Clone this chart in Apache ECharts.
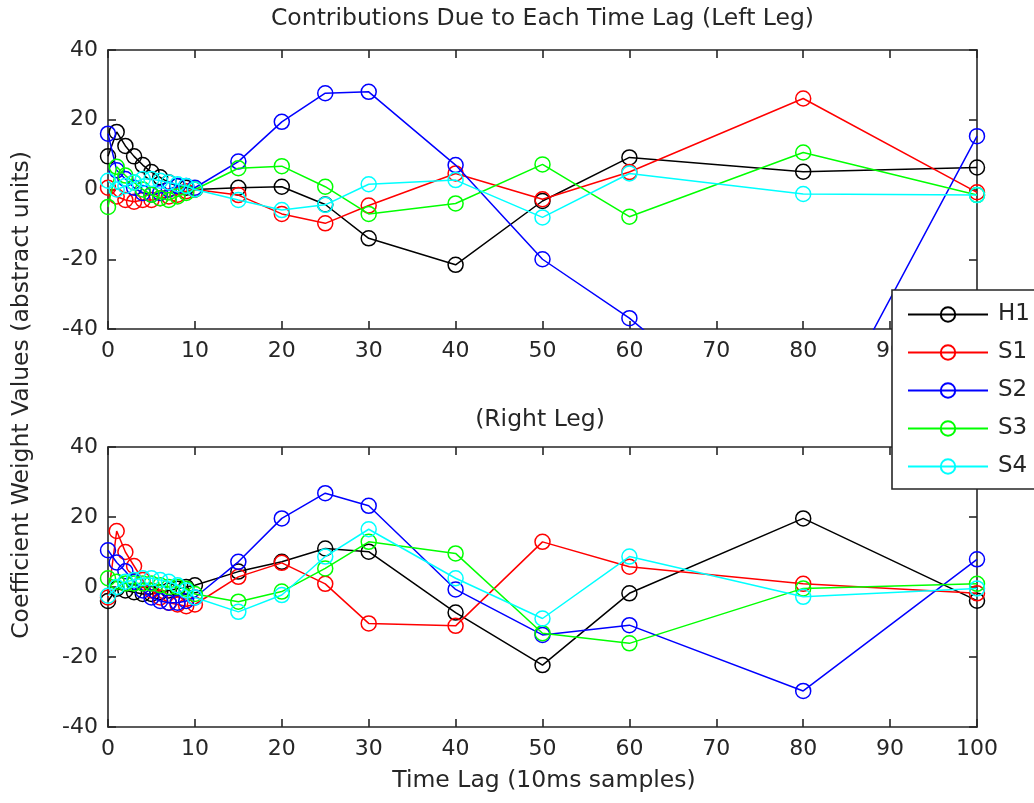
<!DOCTYPE html>
<html>
<head>
<meta charset="utf-8">
<script src="https://cdn.jsdelivr.net/npm/echarts@6/dist/echarts.min.js"></script>
<style>
  html, body { margin: 0; padding: 0; background: #fff; }
  #chart { width: 1034px; height: 803px; }
</style>
</head>
<body>
<div id="chart"></div>
<script>
// Time lags (in 10 ms samples) at which the coefficient weights were estimated
const lags = [0, 1, 2, 3, 4, 5, 6, 7, 8, 9, 10, 15, 20, 25, 30, 40, 50, 60, 80, 100];

const seriesNames = ['H1', 'S1', 'S2', 'S3', 'S4'];
const seriesColors = ['#000000', '#ff0000', '#0000ff', '#00ff00', '#00ffff'];

// Left leg coefficient weights
const leftH1 = [9.5, 16.5, 12.5, 9.5, 7, 5, 3.5, 2, 1, 0.5, 0, 0.5, 0.8, -4.3, -14.0, -21.6, -3.3, 9.2, 5.1, 6.3];
const leftS1 = [0.5, -2, -3, -3.5, -3, -3, -2.5, -2, -1.5, -0.5, 0, -1.6, -7.0, -9.7, -4.6, 4.6, -2.8, 5.0, 26.1, -0.8];
const leftS2 = [16, 5.5, 3, 0.5, -1, -1.5, -1, 0, 1, 1, 0.5, 8.0, 19.4, 27.6, 28.0, 7.0, -20.0, -36.9, -78, 15.3];
const leftS3 = [-5, 6.5, 4, 2, 0, -1.5, -2.5, -3, -2, -1, 0, 6.1, 6.7, 0.8, -7.0, -4.0, 7.2, -7.8, 10.6, -1.6];
const leftS4 = [2.5, 0, 1, 2, 3, 3, 2.5, 2, 1.5, 1, 0, -3.0, -5.9, -4.4, 1.5, 2.7, -8.0, 4.6, -1.3, -1.6];

// Right leg coefficient weights
const rightH1 = [-4, -0.5, -1, -1.5, -2, -2, -1.5, -1, -0.5, 0, 0.5, 4.4, 7.2, 11.0, 10.1, -7.3, -22.3, -1.8, 19.6, -3.9];
const rightS1 = [-3, 16, 10, 6, 2, -1, -3, -4.5, -5, -5.5, -5, 2.9, 6.9, 0.9, -10.4, -11.1, 12.9, 5.8, 0.9, -1.8];
const rightS2 = [10.5, 7, 4.5, 1.5, -1, -3, -4, -4.5, -4.5, -4, -3, 7.2, 19.6, 26.8, 23.2, -0.7, -13.7, -10.9, -29.7, 7.9];
const rightS3 = [2.5, 1.5, 1, 1, 1, 1, 0.5, 0, 0, -0.5, -2, -4.2, -1.3, 5.3, 12.9, 9.6, -13.2, -16.1, -0.4, 0.9];
const rightS4 = [-2.5, 0, 1.5, 2, 2.5, 2.5, 2, 1.5, 0.5, -1, -3, -7.1, -2.3, 8.7, 16.5, 2.5, -9.0, 8.7, -2.8, -0.4];

// Axis ranges
const xMin = 0, xMax = 100, xStep = 10;
const yMin = -40, yMax = 40, yStep = 20;

const leftLeg = [leftH1, leftS1, leftS2, leftS3, leftS4];
const rightLeg = [rightH1, rightS1, rightS2, rightS3, rightS4];

const FONT = 'DejaVu Sans';
const INK = '#262626';
const LABEL_FONT = '23.5px "DejaVu Sans"';

const chart = echarts.init(document.getElementById('chart'), null, { renderer: 'canvas' });

function xAxisFor(grid, pos) {
  return {
    type: 'value', gridIndex: grid, position: pos,
    min: xMin, max: xMax, interval: xStep,
    axisLine: { show: true, onZero: false, lineStyle: { color: INK, width: 1.6 } },
    axisTick: { show: true, inside: true, length: 8, lineStyle: { color: INK, width: 1.6 } },
    axisLabel: { show: pos === 'bottom', margin: 11, fontFamily: FONT, fontSize: 22, color: INK },
    splitLine: { show: false }
  };
}
function yAxisFor(grid, pos) {
  return {
    type: 'value', gridIndex: grid, position: pos,
    min: yMin, max: yMax, interval: yStep,
    axisLine: { show: true, onZero: false, lineStyle: { color: INK, width: 1.6 } },
    axisTick: { show: true, inside: true, length: 8, lineStyle: { color: INK, width: 1.6 } },
    axisLabel: { show: pos === 'left', margin: 10, fontFamily: FONT, fontSize: 22, color: INK },
    splitLine: { show: false }
  };
}

function buildSeries(values, axisIndex) {
  return values.map((vals, i) => ({
    name: seriesNames[i],
    type: 'line',
    xAxisIndex: axisIndex, yAxisIndex: axisIndex,
    data: lags.map((x, k) => [x, vals[k]]),
    z: 2 + i,
    symbol: 'circle',
    symbolSize: 15,
    showAllSymbol: true,
    clip: true,
    lineStyle: { color: seriesColors[i], width: 1.5 },
    itemStyle: { color: 'rgba(255,255,255,0)', borderColor: seriesColors[i], borderWidth: 1.5 },
    emphasis: { disabled: true }
  }));
}

const option = {
  animation: false,
  backgroundColor: '#fff',
  grid: [
    { left: 108, top: 50, width: 869, height: 279 },
    { left: 108, top: 447, width: 869, height: 280 }
  ],
  xAxis: [xAxisFor(0, 'bottom'), xAxisFor(0, 'top'), xAxisFor(1, 'bottom'), xAxisFor(1, 'top')],
  yAxis: [yAxisFor(0, 'left'), yAxisFor(0, 'right'), yAxisFor(1, 'left'), yAxisFor(1, 'right')],
  legend: {
    orient: 'vertical', left: 892, top: 290, z: 30,
    data: seriesNames,
    backgroundColor: '#fff', borderColor: INK, borderWidth: 1.6, borderRadius: 0,
    padding: [13, 120, 11, 15],
    itemWidth: 80, itemHeight: 18, itemGap: 15,
    selectedMode: false,
    textStyle: { fontFamily: FONT, fontSize: 23, lineHeight: 18, color: INK, padding: [0, 0, 0, 5] }
  },
  graphic: [
    { type: 'text', x: 542.5, y: 19, z: 40,
      style: { text: 'Contributions Due to Each Time Lag (Left Leg)', font: LABEL_FONT, fill: INK, align: 'center', verticalAlign: 'middle' } },
    { type: 'text', x: 540, y: 420, z: 40,
      style: { text: '(Right Leg)', font: LABEL_FONT, fill: INK, align: 'center', verticalAlign: 'middle' } },
    { type: 'text', x: 544, y: 781, z: 40,
      style: { text: 'Time Lag (10ms samples)', font: LABEL_FONT, fill: INK, align: 'center', verticalAlign: 'middle' } },
    { type: 'text', x: 22, y: 395, rotation: Math.PI / 2, z: 40,
      style: { text: 'Coefficient Weight Values (abstract units)', font: LABEL_FONT, fill: INK, align: 'center', verticalAlign: 'middle' } }
  ],
  series: [...buildSeries(leftLeg, 0), ...buildSeries(rightLeg, 2)]
};

chart.setOption(option);
</script>
</body>
</html>
